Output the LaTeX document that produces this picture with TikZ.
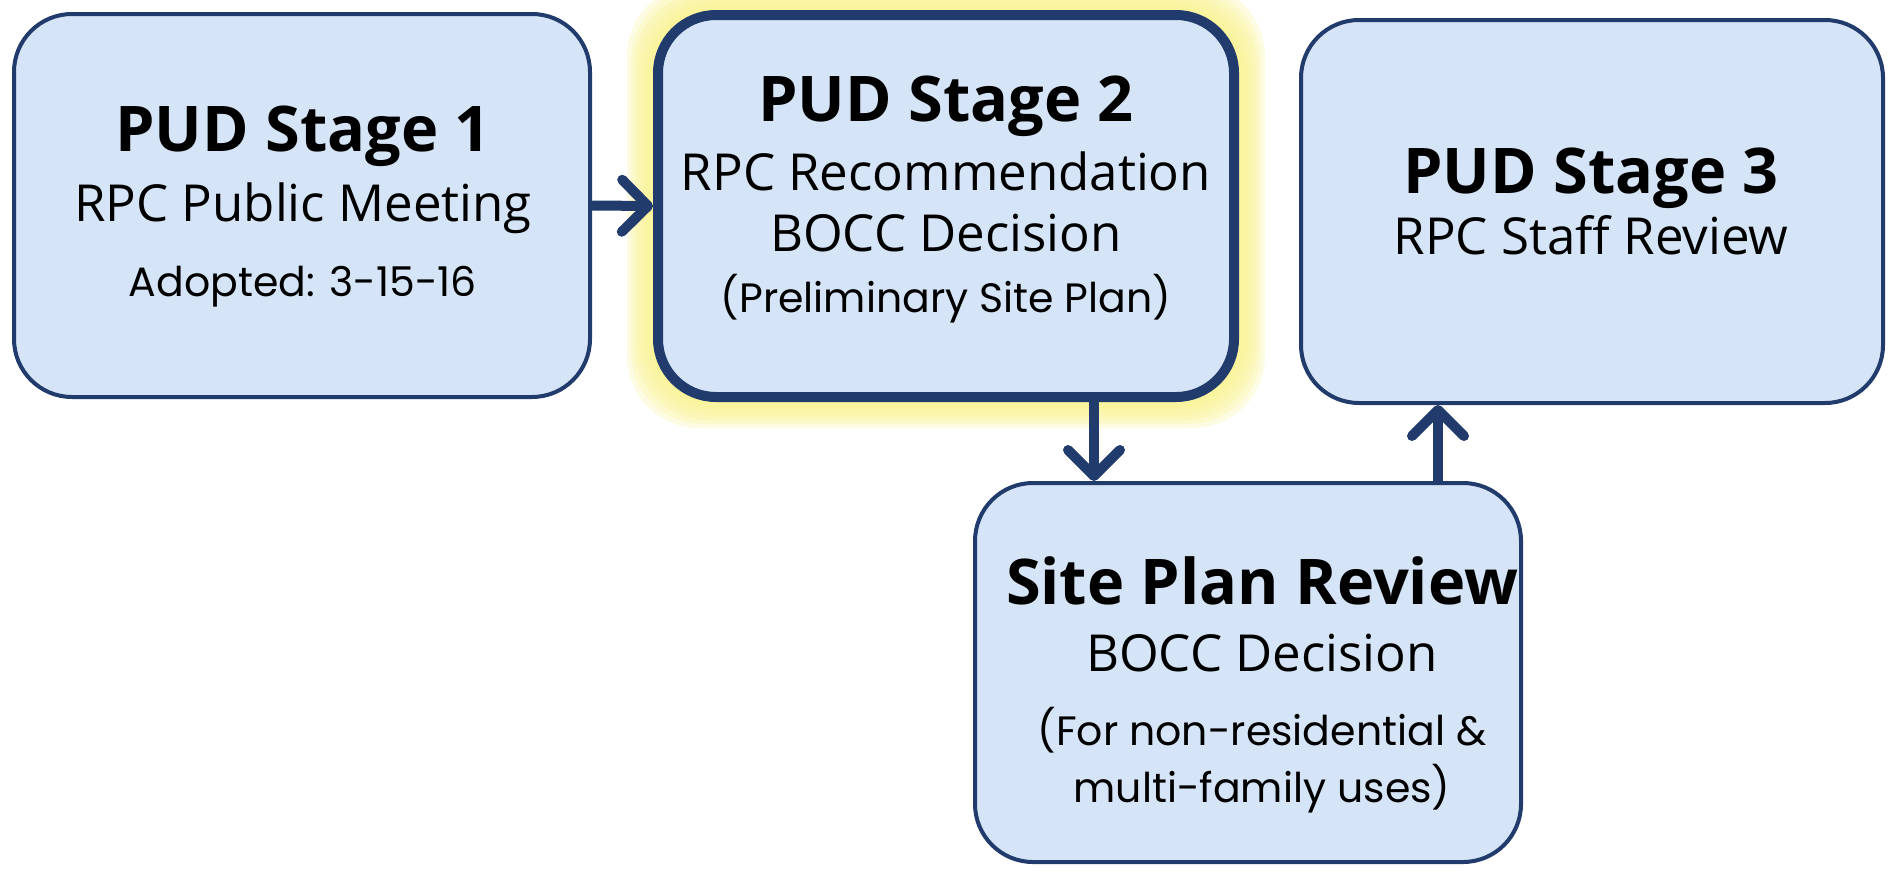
\documentclass[tikz,border=0pt]{standalone}
\usepackage{fontspec}
\setmainfont{Open Sans}
\newfontfamily\gothic{Poppins}
\usetikzlibrary{arrows.meta,positioning}

\definecolor{boxfill}{RGB}{213,228,246}
\definecolor{navy}{RGB}{33,60,108}
\definecolor{glow}{RGB}{250,244,140}

\tikzset{
  stagebox/.style={draw=navy, fill=boxfill, line width=4pt, rounded corners=58pt,
    rectangle, inner sep=0pt},
  hilite/.style={stagebox, line width=10pt},
  head/.style={anchor=base, font=\bfseries\fontsize{63}{66}\selectfont, inner sep=0pt},
  sub/.style={anchor=base, font=\fontsize{51}{54}\selectfont, inner sep=0pt},
  note/.style={anchor=base, font=\gothic\fontsize{41}{44}\selectfont, inner sep=0pt},
  flow/.style={draw=navy, line width=10pt,
    -{Straight Barb[length=26pt,width=52pt,round]}},
}

\begin{document}
\begin{tikzpicture}[x=1pt,y=-1pt]
\useasboundingbox (0,0) rectangle (1895,871);
\fill[white] (0,0) rectangle (1895,871);

% soft yellow halo behind the highlighted stage
\foreach \g in {26,22,18,14,10,6} {
  \fill[glow, opacity=0.25, rounded corners=72pt]
    (653-\g,10-\g) rectangle (1239+\g,402+\g);
}

% stage boxes
\node[stagebox, minimum width=576pt, minimum height=383pt] (s1) at (302,205.5) {};
\node[hilite,   minimum width=576pt, minimum height=382pt] (s2) at (946,206) {};
\node[stagebox, minimum width=582pt, minimum height=383pt] (s3) at (1592,211.5) {};
\node[stagebox, minimum width=546pt, minimum height=379pt] (s4) at (1248,672.5) {};

% texts of stage 1
\node[head] (t1a) at (303,151) {PUD Stage 1};
\node[sub]  (t1b) at (303,221) {RPC Public Meeting};
\node[note] (t1c) at (303,296) {Adopted: 3-15-16};

% texts of stage 2
\node[head] (t2a) at (946,121) {PUD Stage 2};
\node[sub]  (t2b) at (946,190) {RPC Recommendation};
\node[sub]  (t2c) at (946,251) {BOCC Decision};
\node[note] (t2d) at (946,312) {(Preliminary Site Plan)};

% texts of stage 3
\node[head] (t3a) at (1591,193) {PUD Stage 3};
\node[sub]  (t3b) at (1591,254) {RPC Staff Review};

% texts of site plan review
\node[head] (t4a) at (1262,604) {Site Plan Review};
\node[sub]  (t4b) at (1262,671) {BOCC Decision};
\node[note] (t4c) at (1262,745) {(For non-residential \&};
\node[note] (t4d) at (1262,802) {multi-family uses)};

% connectors
\coordinate (d1) at (s2.south -| 1094,0);
\coordinate (d2) at (s4.north -| 1094,0);
\coordinate (u1) at (s4.north -| 1438,0);
\coordinate (u2) at (s3.south -| 1438,0);
\draw[flow] (s1.east) -- (s2.west);
\draw[flow] (d1) -- (d2);
\draw[flow] (u1) -- (u2);
\end{tikzpicture}
\end{document}
